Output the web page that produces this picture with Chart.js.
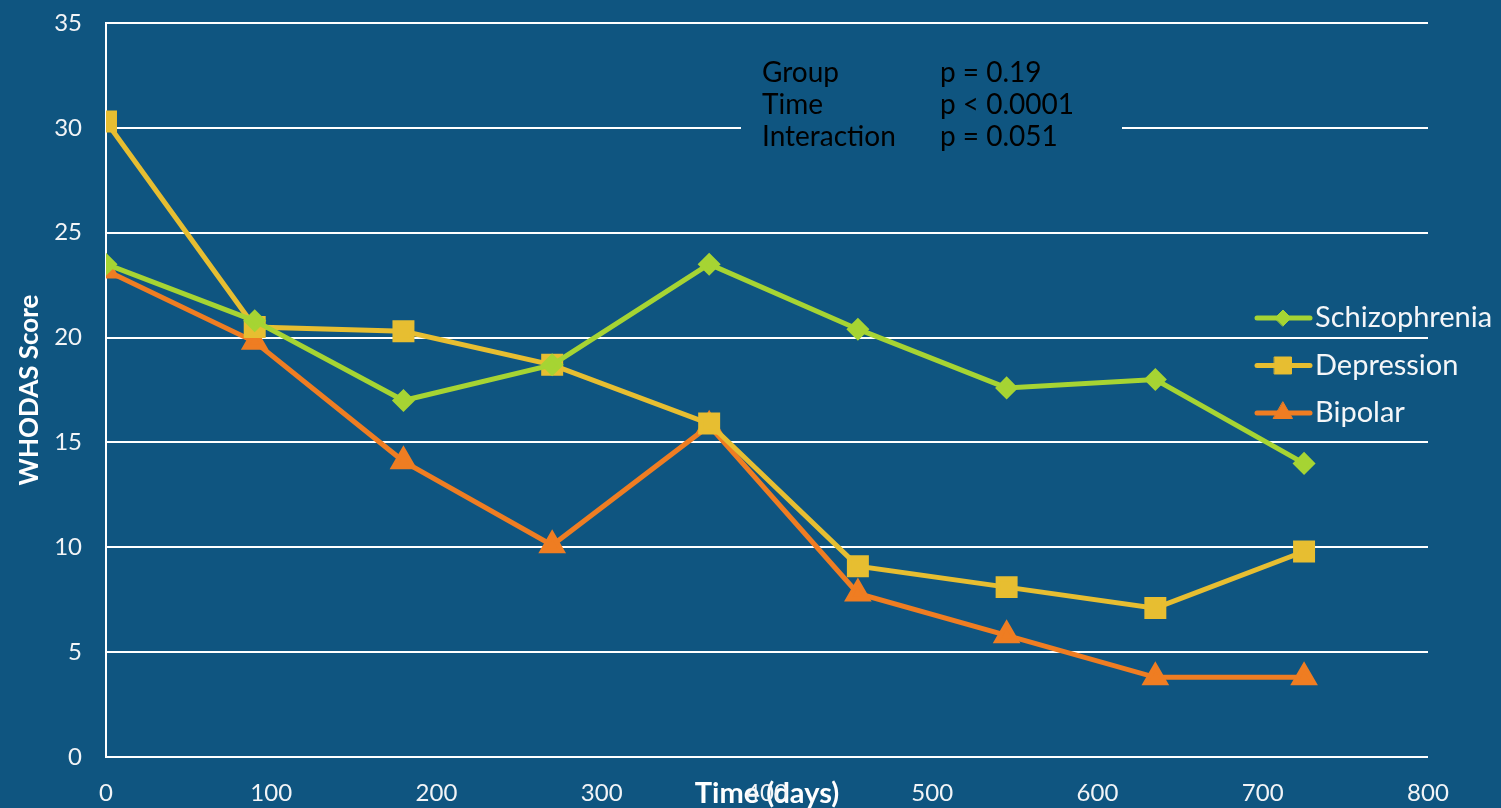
<!DOCTYPE html>
<html>
<head>
<meta charset="utf-8">
<script src="https://cdn.jsdelivr.net/npm/chart.js@4"></script>
<style>
  html, body { margin: 0; padding: 0; background: #0F5580; }
  #wrap { width: 1501px; height: 808px; position: relative; }
</style>
</head>
<body>
<div id="wrap"><canvas id="chart"></canvas></div>
<script>
// data
const days = [0, 90, 180, 270, 365, 455, 545, 635, 725];
const schizophrenia = [23.5, 20.8, 17.0, 18.7, 23.5, 20.4, 17.6, 18.0, 14.0];
const depression = [30.3, 20.5, 20.3, 18.7, 15.9, 9.1, 8.1, 7.1, 9.8];
const bipolar = [23.2, 19.8, 14.1, 10.1, 15.8, 7.8, 5.8, 3.8, 3.8];
const xTicks = [0, 100, 200, 300, 400, 500, 600, 700, 800];
const yTicks = [0, 5, 10, 15, 20, 25, 30, 35];
const statNames = ['Group', 'Time', 'Interaction'];
const statValues = ['p = 0.19', 'p < 0.0001', 'p = 0.051'];

const BG = '#0F5580';
const FONT = 'Lato, "Open Sans", sans-serif';

function toPoints(arr) {
    return arr.map((v, i) => ({ x: days[i], y: v }));
}

// stats box drawn over the plot (hides the grid line behind it)
const statsBox = {
    id: 'statsBox',
    afterDraw(chart) {
        const ctx = chart.ctx;
        ctx.save();
        ctx.fillStyle = BG;
        ctx.fillRect(741, 55, 381, 100);
        ctx.fillStyle = '#000000';
        ctx.font = '28px ' + FONT;
        ctx.textBaseline = 'middle';
        ctx.textAlign = 'left';
        statNames.forEach((name, i) => {
            ctx.fillText(name, 762, 73 + i * 32);
            ctx.fillText(statValues[i], 940, 73 + i * 32);
        });
        ctx.restore();
    }
};

// legend sitting on the right edge, overlapping the plot
const sideLegend = {
    id: 'sideLegend',
    afterDraw(chart) {
        const ctx = chart.ctx;
        ctx.save();
        chart.data.datasets.forEach((ds, i) => {
            const y = 318 + i * 47.5;
            ctx.strokeStyle = ds.borderColor;
            ctx.lineWidth = 5;
            ctx.lineCap = 'round';
            ctx.beginPath();
            ctx.moveTo(1257, y);
            ctx.lineTo(1310, y);
            ctx.stroke();
            ctx.fillStyle = ds.pointBackgroundColor;
            ctx.strokeStyle = ds.pointBackgroundColor;
            ctx.lineWidth = 1;
            Chart.helpers.drawPoint(ctx, {
                pointStyle: ds.pointStyle,
                radius: ds.pointRadius,
                borderWidth: 1
            }, 1283, y);
            ctx.fillStyle = '#F4F6F8';
            ctx.font = '29px ' + FONT;
            ctx.textBaseline = 'middle';
            ctx.textAlign = 'left';
            ctx.fillText(ds.label, 1315, y);
        });
        ctx.restore();
    }
};

const ctx = document.getElementById('chart').getContext('2d');
new Chart(ctx, {
    type: 'line',
    data: {
        datasets: [
            {
                label: 'Schizophrenia',
                data: toPoints(schizophrenia),
                borderColor: '#A6D433',
                backgroundColor: '#A6D433',
                pointBackgroundColor: '#A6D433',
                pointBorderColor: '#A6D433',
                pointStyle: 'rectRot',
                pointRadius: 8,
                borderWidth: 5
            },
            {
                label: 'Depression',
                data: toPoints(depression),
                borderColor: '#E7BE31',
                backgroundColor: '#E7BE31',
                pointBackgroundColor: '#E7BE31',
                pointBorderColor: '#E7BE31',
                pointStyle: 'rect',
                pointRadius: 12,
                borderWidth: 5
            },
            {
                label: 'Bipolar',
                data: toPoints(bipolar),
                borderColor: '#EF7D22',
                backgroundColor: '#EF7D22',
                pointBackgroundColor: '#EF7D22',
                pointBorderColor: '#EF7D22',
                pointStyle: 'triangle',
                pointRadius: 11,
                borderWidth: 5
            }
        ]
    },
    options: {
        responsive: true,
        maintainAspectRatio: false,
        animation: false,
        layout: { padding: { top: 23, right: 73, bottom: 0, left: 0 } },
        plugins: {
            legend: { display: false },
            tooltip: { enabled: false }
        },
        elements: { line: { tension: 0 } },
        scales: {
            x: {
                type: 'linear',
                min: 0,
                max: 800,
                afterBuildTicks: scale => { scale.ticks = xTicks.map(v => ({ value: v })); },
                afterFit: scale => {
                    scale.height = 51;
                    scale.paddingLeft = 0;
                    scale.paddingRight = 0;
                },
                grid: { display: false, drawTicks: false },
                border: { display: false },
                ticks: {
                    color: '#F2F4F6',
                    font: { family: FONT, size: 24 },
                    padding: 22,
                    maxRotation: 0
                },
                title: {
                    display: true,
                    text: 'Time (days)',
                    color: '#FFFFFF',
                    font: { family: FONT, size: 29, weight: 'bold' },
                    padding: { top: 0, bottom: -3 }
                }
            },
            y: {
                min: 0,
                max: 35,
                afterBuildTicks: scale => { scale.ticks = yTicks.map(v => ({ value: v })); },
                afterFit: scale => {
                    scale.width = 106;
                    scale.paddingTop = 0;
                    scale.paddingBottom = 0;
                },
                grid: { color: '#FFFFFF', lineWidth: 2, drawTicks: false },
                border: { display: true, color: '#FFFFFF', width: 2 },
                ticks: {
                    color: '#F2F4F6',
                    font: { family: FONT, size: 24 },
                    padding: 24
                },
                title: {
                    display: true,
                    text: 'WHODAS Score',
                    color: '#FFFFFF',
                    font: { family: FONT, size: 26, weight: 'bold' },
                    padding: { top: 14, bottom: 0 }
                }
            }
        }
    },
    plugins: [statsBox, sideLegend]
});
</script>
</body>
</html>
